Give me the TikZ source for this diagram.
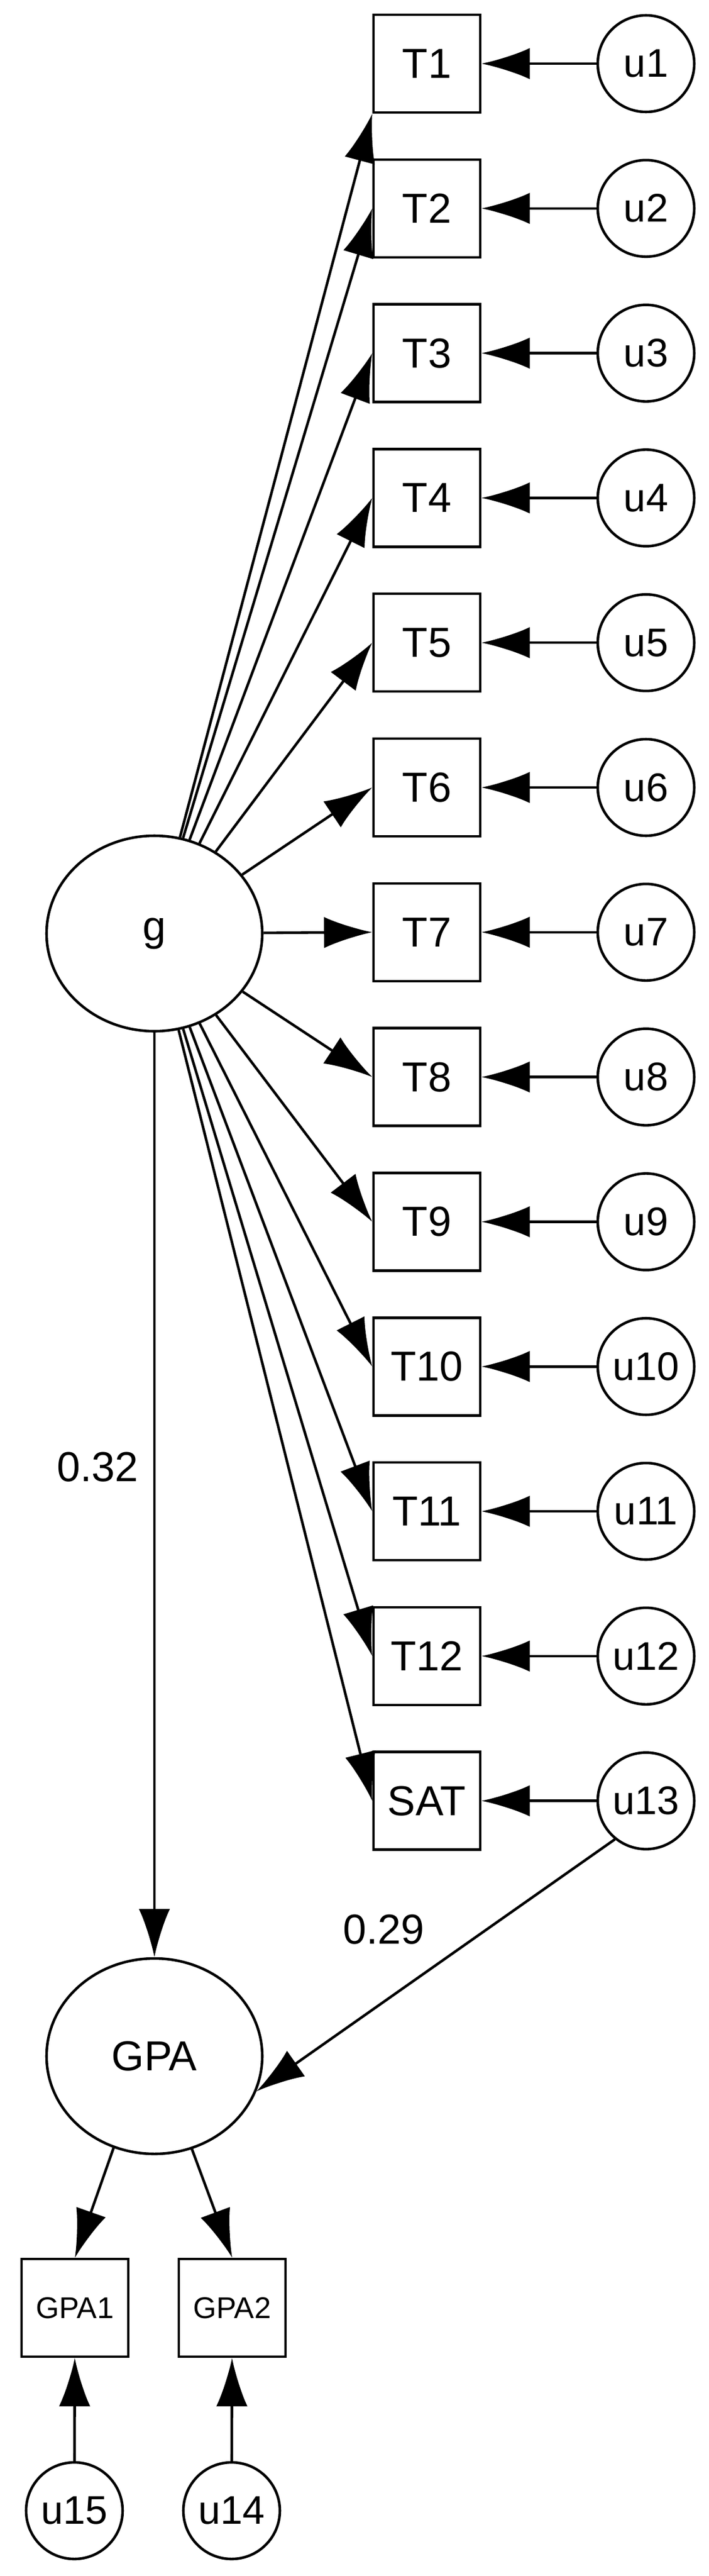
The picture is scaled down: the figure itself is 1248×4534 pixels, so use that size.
\documentclass[tikz,border=0pt]{standalone}
\usepackage{fontspec}
\setmainfont{Liberation Sans}
\usetikzlibrary{arrows.meta,shapes.geometric}

\begin{document}
\begin{tikzpicture}[x=0.1mm,y=-0.1mm,
obs/.style={draw,line width=1.3pt,rectangle,minimum width=18.8mm,minimum height=17.2mm,inner sep=0pt,font=\fontsize{21}{24}\selectfont},
err/.style={draw,line width=1.3pt,circle,minimum size=17mm,inner sep=0pt,font=\fontsize{20}{24}\selectfont},
lat/.style={draw,line width=1.3pt,ellipse,minimum width=38mm,minimum height=34.4mm,inner sep=0pt,font=\fontsize{21}{24}\selectfont},
coef/.style={font=\fontsize{21}{24}\selectfont},
path/.style={line width=1.3pt,-{Latex[length=8.5mm,width=5.5mm]}}]
\useasboundingbox (0,0) rectangle (1248,4534);

\node[lat] (g) at (272,1643) {g};
\node[lat] (GPA) at (272,3619) {GPA};

% tests and their errors
\foreach \i in {1,...,13}{
  \pgfmathsetmacro{\yy}{112+(\i-1)*254.8}
  \ifnum\i=13
    \node[obs] (t\i) at (752,\yy) {SAT};
  \else
    \node[obs] (t\i) at (752,\yy) {T\i};
  \fi
  \node[err] (u\i) at (1138,\yy) {u\i};
  \draw[path] (u\i) -- (t\i.east);
}
\draw[path] (g) -- (t1.south west);
\foreach \i in {2,...,13}
  \draw[path] (g) -- (t\i.west);

% GPA part
\node[obs,font=\fontsize{15}{18}\selectfont] (GPA1) at (132,4062) {GPA1};
\node[obs,font=\fontsize{15}{18}\selectfont] (GPA2) at (409,4062) {GPA2};
\node[err] (u15) at (131,4419) {u15};
\node[err] (u14) at (408,4419) {u14};

\node[coef] (b1) at (172,2582) {0.32};
\node[coef] (b2) at (676,3396) {0.29};
\draw[path] (g) -- (GPA);
\draw[path] (u13.231) -- (GPA.-19);
\draw[path] (GPA.246) -- (GPA1.north);
\draw[path] (GPA.292) -- (GPA2.north);
\draw[path] (u15) -- (GPA1);
\draw[path] (u14) -- (GPA2);
\end{tikzpicture}
\end{document}
